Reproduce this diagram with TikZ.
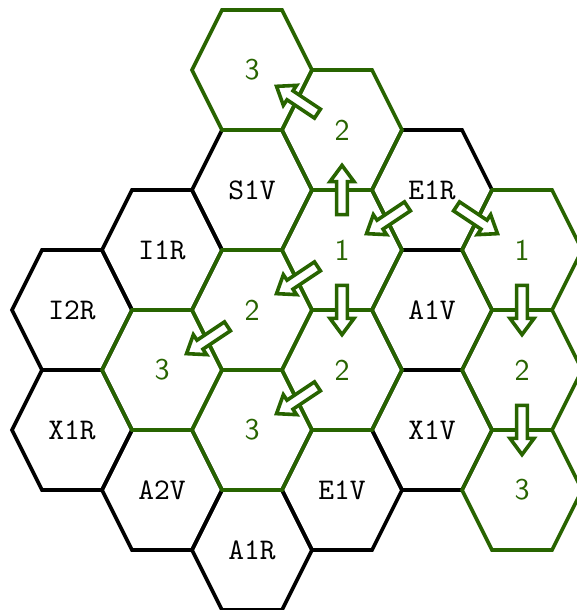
\documentclass[tikz,border=0pt]{standalone}
\usepackage{tikz}
\usetikzlibrary{calc}

\definecolor{movegreen}{RGB}{40,100,0}

\tikzset{
  hexblack/.style={draw=black,line width=1.2pt},
  hexgreen/.style={draw=movegreen,line width=1.2pt},
  unitlabel/.style={font=\ttfamily,text=black},
  distlabel/.style={font=\sffamily,text=movegreen},
  moverline/.style={draw=movegreen,fill=white,line width=1.2pt}
}

% hexagon around a named centre
\newcommand{\hexat}[2]{\draw[#1] (#2) +(-1,0) -- +(-0.5,1) -- +(0.5,1) -- +(1,0) -- +(0.5,-1) -- +(-0.5,-1) -- cycle;}
% block arrow from one hex into the next
\newcommand{\mover}[2]{%
  \draw[moverline] let \p1=($(#2)-(#1)$), \n1={atan2(\y1,\x1)}, \n2={\n1+90},
      \p2=($(#1)!0.5!(#2)$) in
    ($(\p2)+(\n1:0.41)$) -- ($(\p2)+(\n1:0.14)+(\n2:0.2)$) -- ($(\p2)+(\n1:0.14)+(\n2:0.09)$)
    -- ($(\p2)+(\n1:-0.41)+(\n2:0.09)$) -- ($(\p2)+(\n1:-0.41)+(\n2:-0.09)$)
    -- ($(\p2)+(\n1:0.14)+(\n2:-0.09)$) -- ($(\p2)+(\n1:0.14)+(\n2:-0.2)$) -- cycle;}

\begin{document}
\begin{tikzpicture}[x=20pt,y=20pt]
\useasboundingbox (-1.2,0.1667) rectangle (8.4,-10);

% units
\foreach \c/\k/\txt in {0/5/I2R,0/7/X1R,1/4/I1R,1/8/A2V,2/3/S1V,2/9/A1R,3/8/E1V,4/3/E1R,4/5/A1V,4/7/X1V}{
  \coordinate (h\c\k) at (1.5*\c,-\k);
  \hexat{hexblack}{h\c\k}
  \node[unitlabel] (t\c\k) at (h\c\k) {\txt};
}
% reachable hexes
\foreach \c/\k/\txt in {1/6/3,2/1/3,2/5/2,2/7/3,3/2/2,3/4/1,3/6/2,5/4/1,5/6/2,5/8/3}{
  \coordinate (h\c\k) at (1.5*\c,-\k);
  \hexat{hexgreen}{h\c\k}
  \node[distlabel] (t\c\k) at (h\c\k) {\txt};
}

% moves
\mover{h43}{h34}
\mover{h43}{h54}
\mover{h34}{h32}
\mover{h32}{h21}
\mover{h34}{h25}
\mover{h34}{h36}
\mover{h25}{h16}
\mover{h36}{h27}
\mover{h54}{h56}
\mover{h56}{h58}
\end{tikzpicture}
\end{document}
